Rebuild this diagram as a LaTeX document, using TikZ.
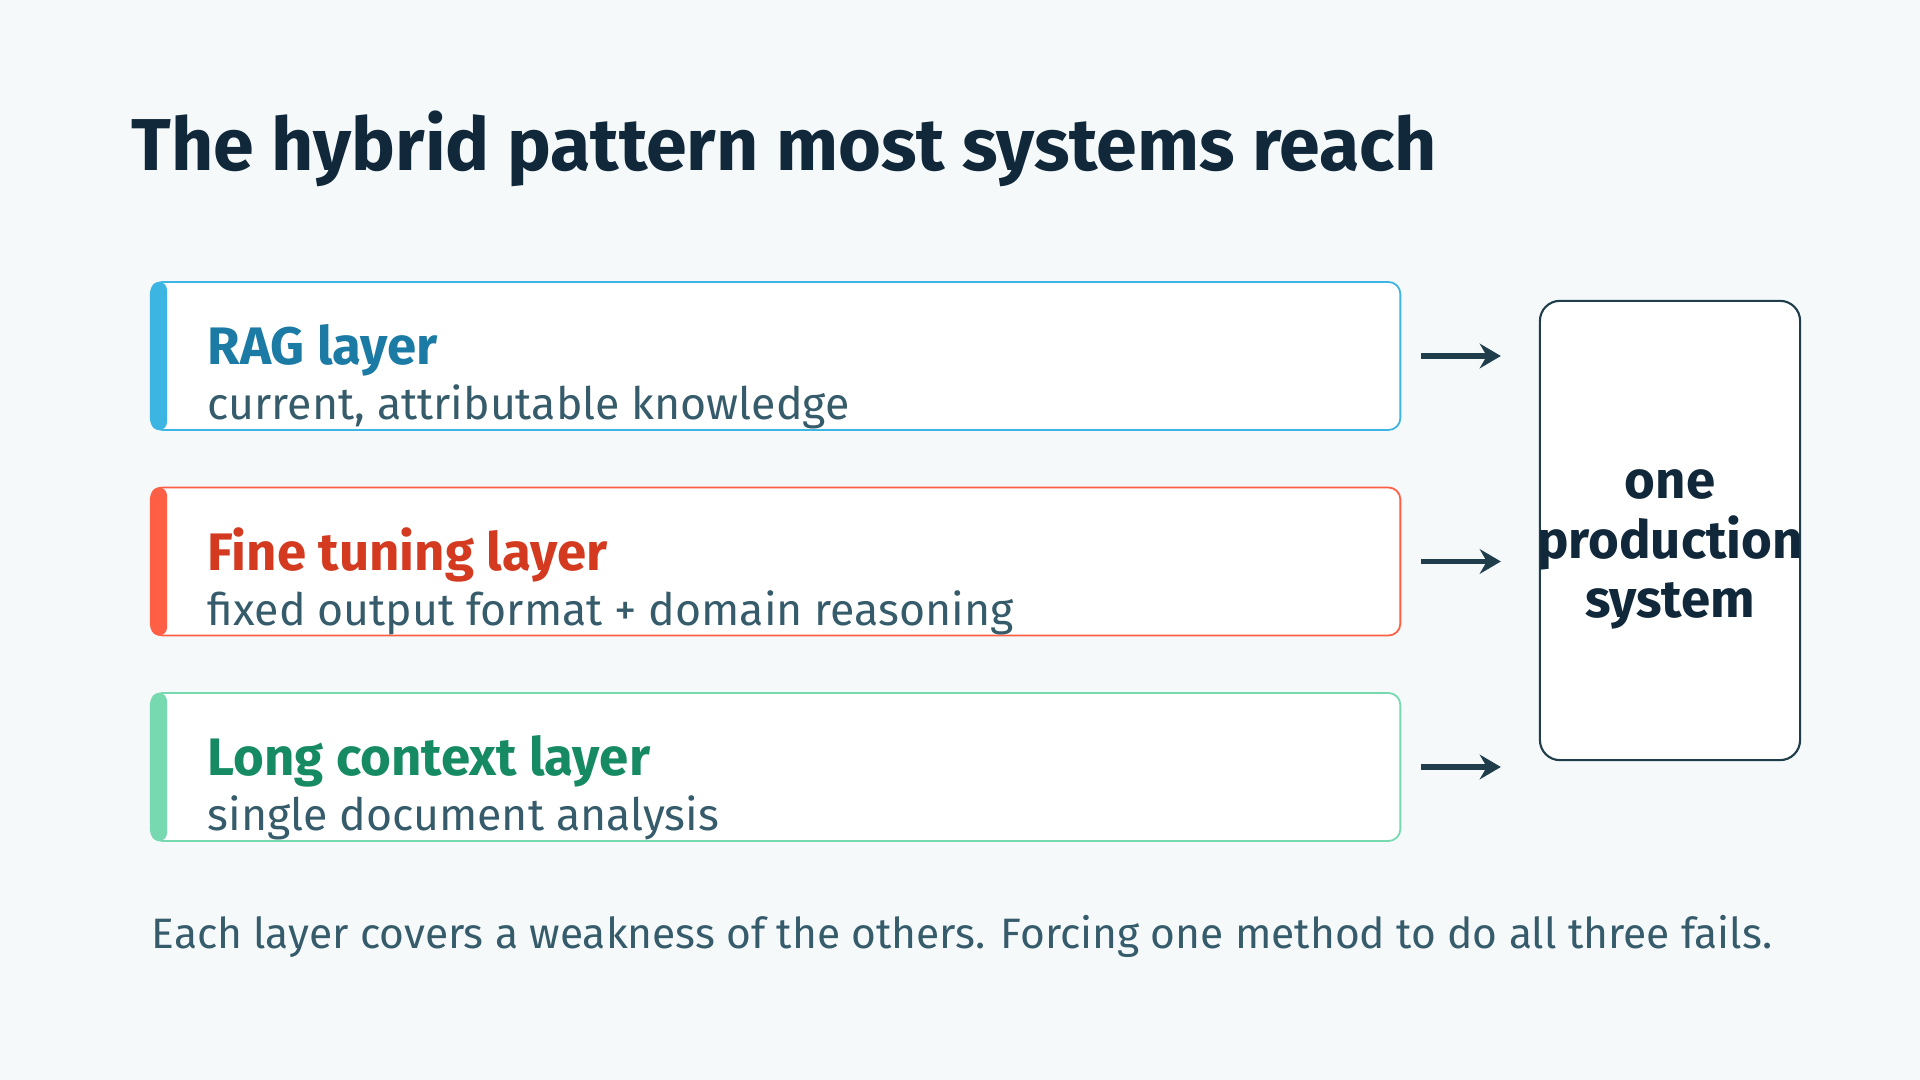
\documentclass[tikz,border=0pt]{standalone}
\usepackage{fontspec}
\setmainfont{Fira Sans}
\usetikzlibrary{arrows.meta}
\definecolor{bg}{HTML}{F5F9FA}
\definecolor{ttl}{HTML}{10283A}
\definecolor{blueA}{HTML}{3DB5E2}
\definecolor{blueT}{HTML}{1B7BA5}
\definecolor{redA}{HTML}{FF5F45}
\definecolor{redT}{HTML}{D33A20}
\definecolor{greenA}{HTML}{76D9B0}
\definecolor{greenT}{HTML}{168A62}
\definecolor{subc}{HTML}{365C6B}
\definecolor{arrc}{HTML}{1F3D4B}
\tikzset{
  layerbox/.style={draw, fill=white, line width=0.5pt, rounded corners=1.2mm, minimum width=124.9mm, minimum height=14.8mm, inner sep=0},
  accentbar/.style={rounded corners=0.8mm, minimum width=1.6mm, minimum height=14.8mm, inner sep=0},
  layertitle/.style={anchor=base west, inner sep=0, font=\fontsize{15}{18}\selectfont\bfseries},
  layersub/.style={anchor=base west, inner sep=0, text=subc, font=\fontsize{12.7}{15}\selectfont},
  sysbox/.style={draw=arrc, fill=white, line width=0.6pt, rounded corners=2mm, minimum width=26mm, minimum height=45.9mm, inner sep=0},
  flow/.style={draw=arrc, line width=1.5pt, -{Stealth[length=6pt,width=7pt,inset=2pt]}, shorten <=2mm, shorten >=3.8mm}
}
\begin{document}
\begin{tikzpicture}[x=0.01cm,y=-0.01cm]
\useasboundingbox[fill=bg] (0,0) rectangle (1920,1080);
\node[anchor=base west, inner sep=0, text=ttl, font=\fontsize{20.9}{25}\selectfont\bfseries] (title) at (131,171) {The hybrid pattern most systems reach};
% layer boxes
\node[layerbox, draw=blueA] (box1) at (775.5,356) {};
\node[accentbar, fill=blueA] (bar1) at (159,356) {};
\node[layertitle, text=blueT] (t1) at (207,365) {RAG layer};
\node[layersub] (s1) at (207,420) {current, attributable knowledge};
\node[layerbox, draw=redA] (box2) at (775.5,561.5) {};
\node[accentbar, fill=redA] (bar2) at (159,561.5) {};
\node[layertitle, text=redT] (t2) at (207,571) {Fine tuning layer};
\node[layersub] (s2) at (207,626) {fixed output format + domain reasoning};
\node[layerbox, draw=greenA] (box3) at (775.5,767) {};
\node[accentbar, fill=greenA] (bar3) at (159,767) {};
\node[layertitle, text=greenT] (t3) at (207,776) {Long context layer};
\node[layersub] (s3) at (207,831) {single document analysis};
% system box
\node[sysbox] (sys) at (1670,530.5) {};
\node[align=center, inner sep=0, text=ttl, font=\fontsize{15}{17}\selectfont\bfseries, anchor=base] (systxt) at (1670,618) {one\\production\\system};
% arrows
\draw[flow] (box1.east) -- (box1.east -| sys.west);
\draw[flow] (box2.east) -- (box2.east -| sys.west);
\draw[flow] (box3.east) -- (box3.east -| sys.west);
% footer
\node[anchor=base west, inner sep=0, text=subc, font=\fontsize{12.1}{14}\selectfont] (foot) at (151,949) {Each layer covers a weakness of the others. Forcing one method to do all three fails.};
\end{tikzpicture}
\end{document}
